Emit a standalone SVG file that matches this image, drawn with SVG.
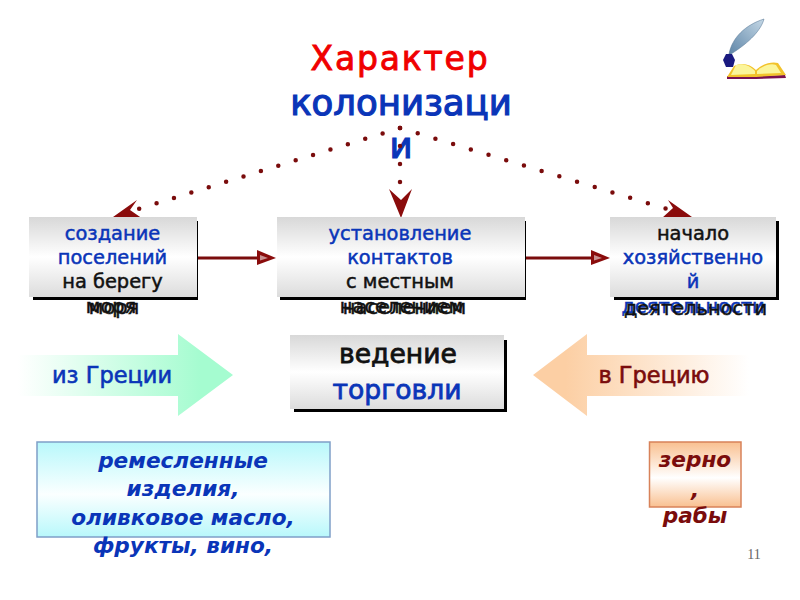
<svg xmlns="http://www.w3.org/2000/svg" width="800" height="600" viewBox="0 0 800 600">
<style>
text{font-family:"DejaVu Sans","Noto Sans CJK SC",sans-serif;text-anchor:middle}
.b{fill:#0a35b8;stroke:#0a35b8}.k{fill:#111;stroke:#111}.r{fill:#7a0c0c;stroke:#7a0c0c}
.s{font-size:19.400px;stroke-width:.5px}
.m{font-size:26.600px;stroke-width:.8px}
.a{font-size:22.500px;stroke-width:.6px}
.it{font-size:21.600px;font-style:italic;font-weight:bold;stroke-width:0}
.box{fill:url(#grey)}
.shadow{fill:#000}
.line{stroke:#7a0c0c;stroke-width:3;fill:none}
.dots{stroke:#7a0c0c;stroke-width:4.500;stroke-linecap:round;fill:none}
.head{fill:#8a0c0c}
.hi{fill:#c89090}
</style>
<defs>
<linearGradient id="grey" x1="0" y1="0" x2="0" y2="1"><stop offset="0" stop-color="#d8d8d8"/><stop offset=".5" stop-color="#fff"/><stop offset="1" stop-color="#dcdcdc"/></linearGradient>
<linearGradient id="green" x1="0" y1="0" x2="1" y2="0"><stop offset="0" stop-color="#fff"/><stop offset=".85" stop-color="#a5fcd0"/></linearGradient>
<linearGradient id="orange" x1="1" y1="0" x2="0" y2="0"><stop offset="0" stop-color="#fff"/><stop offset=".85" stop-color="#fccfa4"/></linearGradient>
<linearGradient id="cyan" x1="0" y1="0" x2="0" y2="1"><stop offset="0" stop-color="#b8f8fb"/><stop offset=".55" stop-color="#fbffff"/><stop offset="1" stop-color="#b8f8fb"/></linearGradient>
<linearGradient id="peach" x1="0" y1="0" x2="0" y2="1"><stop offset="0" stop-color="#f9c090"/><stop offset=".55" stop-color="#fff"/><stop offset="1" stop-color="#f9c090"/></linearGradient>
<linearGradient id="feather" x1="0" y1="1" x2="1" y2="0"><stop offset="0" stop-color="#5f86a8"/><stop offset="1" stop-color="#c5d8e6"/></linearGradient>
</defs>

<g id="title">
<text x="400" y="70" fill="#f00000" stroke="#f00000" stroke-width=".9" font-size="33" letter-spacing="1.800">Характер</text>
<text x="401" y="115" class="b" stroke-width="1.200" font-size="35.500">колонизаци</text>
<text x="401" y="158" class="b" stroke-width="1.200" font-size="35.500">и</text>
</g>

<g id="connectors">
<path class="dots" stroke-dasharray="0 18.200" d="M400 128L138 209"/>
<path class="dots" stroke-dasharray="0 18.500" d="M400 128L667 209"/>
<path class="dots" stroke-dasharray="0 18" d="M400 128V190"/>
<path class="head" d="M113 217L137 200L130 210L143 219Z"/>
<path class="head" d="M692 217L662 218L673 208L668 200Z"/>
<path class="head" d="M401 218L389 189L401 200L412 189Z"/>
<path class="line" d="M195 258H258"/>
<path class="line" d="M524 258H592"/>
<path class="head" d="M257 250L276 258L257 265Z"/>
<path class="head" d="M591 250L610 258L591 265Z"/>
<path class="hi" d="M260 255L268 258L260 260.500Z"/>
<path class="hi" d="M594 255L602 258L594 260.500Z"/>
</g>

<g id="node-settlements">
<rect class="shadow" x="33" y="221" width="165" height="79"/>
<rect class="box" x="29" y="217" width="168" height="80"/>
<text x="112.500" y="240" class="s b">создание</text>
<text x="112.500" y="264" class="s b">поселений</text>
<text x="112.500" y="288" class="s k">на берегу</text>
<text x="111" y="313" class="s k">моря</text>
<text x="114" y="314" class="s k">моря</text>
</g>

<g id="node-contacts">
<rect class="shadow" x="280" y="221" width="246" height="79"/>
<rect class="box" x="277" y="217" width="248" height="80"/>
<text x="400" y="240" class="s b">установление</text>
<text x="400" y="264" class="s b">контактов</text>
<text x="400" y="288" class="s k">с местным</text>
<text x="401.500" y="313" class="s k">населением</text>
<text x="404.500" y="314" class="s k">населением</text>
</g>

<g id="node-economy">
<rect class="shadow" x="614" y="221" width="165" height="79"/>
<rect class="box" x="610" y="217" width="166" height="80"/>
<text x="693" y="240" class="s k">начало</text>
<text x="693" y="264" class="s b">хозяйственно</text>
<text x="693" y="288" class="s b">й</text>
<text x="693" y="313" class="s b">деятельности</text>
<text x="695.500" y="315" class="s k">деятельности</text>
</g>

<g id="node-trade">
<rect class="shadow" x="294" y="340" width="213" height="72"/>
<rect class="box" x="290" y="335" width="214" height="74"/>
<text x="398" y="363" class="m k">ведение</text>
<text x="397" y="399" class="m b">торговли</text>
</g>

<g id="arrow-from-greece">
<path fill="url(#green)" d="M18 355H178V334L233 375L178 416V396H18Z"/>
<text x="112" y="383" class="a b">из Греции</text>
</g>

<g id="arrow-to-greece">
<path fill="url(#orange)" d="M749 355H587V334L533 375L587 416V396H749Z"/>
<text x="654" y="383" class="a r">в Грецию</text>
</g>

<g id="node-exports">
<rect x="37" y="442" width="293" height="95" fill="url(#cyan)" stroke="#7f9fc8" stroke-width="1.500"/>
<text x="183" y="468" class="it b">ремесленные</text>
<text x="183" y="496" class="it b">изделия,</text>
<text x="183" y="525" class="it b">оливковое масло,</text>
<text x="183" y="553" class="it b">фрукты, вино,</text>
</g>

<g id="node-imports">
<rect x="649.500" y="442" width="91.500" height="65" fill="url(#peach)" stroke="#d8825a" stroke-width="1.500"/>
<text x="695" y="467" class="it r">зерно</text>
<text x="695" y="497" class="it r">,</text>
<text x="695" y="523" class="it r">рабы</text>
</g>

<text x="754" y="559" style="font-family:'Liberation Serif',serif" font-size="14" fill="#666">11</text>

<g id="book-icon">
<path fill="url(#feather)" stroke="#4d6f8f" stroke-width=".5" d="M729 54C732 38 745 25 764 19C761 30 750 42 731 54Z"/>
<path fill="#1a1a80" d="M726 54H732L735 60L733 67H726L723 60Z"/>
<path fill="#7a1050" d="M727 76L756 76L785 75L786 78L756 79L727 79Z"/>
<path fill="#f2c22a" d="M734 66C742 62 750 64 756 70C762 64 772 61 778 63L786 75L756 77L727 77Z"/>
<path fill="#fbf59a" d="M736 65C743 63 750 66 755 71L755 74L731 75Z"/>
<path fill="#fbf59a" d="M757 71C762 66 770 63 776 65L781 73L757 74Z"/>
</g>
</svg>
